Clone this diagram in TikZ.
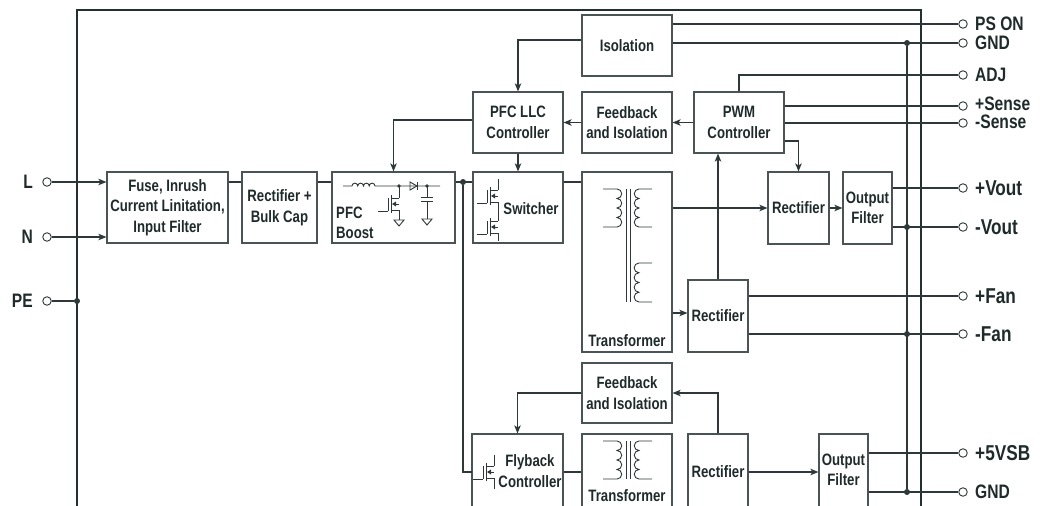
\documentclass[tikz,border=0pt]{standalone}
\usepackage{fontspec}
\setmainfont{Liberation Sans}[FakeStretch=0.8]
\usetikzlibrary{arrows.meta,calc}
\definecolor{txtc}{HTML}{1F2A2A}
\definecolor{wirec}{HTML}{2E3838}
\definecolor{boxc}{HTML}{4A5454}
\definecolor{framec}{HTML}{243030}
\newcommand\boxfont{\fontsize{16.5}{20.5}\selectfont\bfseries}
\newcommand\labfont{\fontsize{19.5}{20}\selectfont\bfseries}
\newcommand\biglab{\fontsize{21.5}{22}\selectfont\bfseries}
\newcommand\mosfet[2]{% channel x, centre y
  \draw[sym] (#1,#2-9) -- (#1,#2+9);
  \draw[sym] (#1-3,#2-6) -- (#1-3,#2+7);
  \draw[sym] (#1-13,#2+7) -- (#1-3,#2+7);
  \draw[sym] (#1,#2-6) -- (#1+8,#2-6);
  \draw[sym] (#1,#2+6) -- (#1+8,#2+6);
  \draw[sym] (#1+8,#2) -- (#1+4,#2);
  \fill[wirec] (#1+1,#2) -- (#1+5,#2-2.5) -- (#1+5,#2+2.5) -- cycle;
}
\newcommand\gnd[2]{\draw[sym] (#1-5,#2) -- (#1+5,#2) -- (#1,#2+6) -- cycle;}
\newcommand\coils[3]{% x of arc points, top y, radius ; bulge right
  \draw[sym] (#1-14,#2) -- (#1,#2)
    arc[start angle=90,end angle=-90,radius=#3pt]
    arc[start angle=90,end angle=-90,radius=#3pt]
    arc[start angle=90,end angle=-90,radius=#3pt]
    arc[start angle=90,end angle=-90,radius=#3pt] -- ++(-14,0);}
\newcommand\coill[3]{% bulge left
  \draw[sym] (#1+13,#2) -- (#1,#2)
    arc[start angle=90,end angle=270,radius=#3pt]
    arc[start angle=90,end angle=270,radius=#3pt]
    arc[start angle=90,end angle=270,radius=#3pt]
    arc[start angle=90,end angle=270,radius=#3pt] -- ++(13,0);}
\begin{document}
\begin{tikzpicture}[x=1pt,y=-1pt,
  box/.style={draw=boxc,line width=1.2pt,rectangle,inner sep=0pt,align=center,font=\boxfont,text=txtc},
  txt/.style={inner sep=0pt,align=center,font=\boxfont,text=txtc},
  wire/.style={draw=wirec,line width=1.2pt},
  sym/.style={draw=wirec,line width=0.9pt},
  arr/.style={wire,-{Stealth[length=8pt,width=6.5pt,inset=2pt]}},
  term/.style={circle,draw=wirec,fill=white,line width=0.9pt,minimum size=8.5pt,inner sep=0pt},
  dot/.style={circle,fill=wirec,minimum size=6pt,inner sep=0pt},
  lab/.style={anchor=west,inner sep=0pt,font=\labfont,text=txtc},
  blab/.style={anchor=west,inner sep=0pt,font=\biglab,text=txtc},
  frame/.style={draw=framec,line width=2.4pt}]
\useasboundingbox (0,0) rectangle (1042,506);
\clip (0,0) rectangle (1042,506);
% frame
\draw[frame] (77,530) -- (77,10) -- (921,10) -- (921,530);
% boxes
\node[box,minimum width=121,minimum height=71] (fuse) at (167.5,207.5) {Fuse, Inrush\\Current Linitation,\\Input Filter};
\node[box,minimum width=75,minimum height=71] (rect) at (279.5,207.5) {Rectifier +\\Bulk Cap};
\node[box,minimum width=123,minimum height=71] (pfc) at (393.5,207.5) {};
\node[txt,align=left,anchor=west] (pfct) at (336,223) {PFC\\Boost};
\node[box,minimum width=90,minimum height=71] (sw) at (518,207.5) {};
\node[txt] (swt) at (531,209) {Switcher};
\node[box,minimum width=90,minimum height=180] (tr) at (627,262) {};
\node[txt] (trt) at (627,341) {Transformer};
\node[box,minimum width=90,minimum height=61] (iso) at (627,45.5) {Isolation};
\node[box,minimum width=90,minimum height=61] (fb) at (627,122.5) {Feedback\\and Isolation};
\node[box,minimum width=90,minimum height=61] (llc) at (518,122.5) {PFC LLC\\Controller};
\node[box,minimum width=90,minimum height=61] (pwm) at (739,122.5) {PWM\\Controller};
\node[box,minimum width=61,minimum height=72] (rect1) at (798.5,208) {Rectifier};
\node[box,minimum width=49,minimum height=72] (of1) at (867.5,208) {Output\\Filter};
\node[box,minimum width=60,minimum height=72] (rect2) at (718,316) {Rectifier};
\node[box,minimum width=90,minimum height=60] (fb2) at (627,393) {Feedback\\and Isolation};
\node[box,minimum width=91,minimum height=106] (fly) at (517.5,487) {};
\node[txt] (flyt) at (530,471) {Flyback\\Controller};
\node[box,minimum width=90,minimum height=106] (tr3) at (627,487) {};
\node[txt] (tr3t) at (627,496) {Transformer};
\node[box,minimum width=60,minimum height=106] (rect3) at (718,487) {};
\node[txt] (rect3t) at (718,472) {Rectifier};
\node[box,minimum width=49,minimum height=106] (of2) at (843.5,487) {};
\node[txt] (of2t) at (843.5,470) {Output\\Filter};
% dots
\node[dot] (d1) at (463,182) {};
\node[dot] (dPE) at (77,301) {};
\node[dot] (dG1) at (907,43) {};
\node[dot] (dV) at (907,227) {};
\node[dot] (dF) at (907,334) {};
\node[dot] (dG2) at (907,492) {};
\coordinate (flyin) at (472,472);
% left terminals
\node[term] (tL) at (47,182) {};
\node[term] (tN) at (47,237) {};
\node[term] (tPE) at (47,301) {};
\node[lab,anchor=east] (lL) at (33,182) {L};
\node[lab,anchor=east] (lN) at (33,237) {N};
\node[lab,anchor=east] (lPE) at (33,301) {PE};
\draw[arr] (tL.east) -- (tL.east -| fuse.west);
\draw[arr] (tN.east) -- (tN.east -| fuse.west);
\draw[wire] (tPE.east) -- (dPE);
% main chain
\draw[wire] (fuse.east |- tL) -- (rect.west |- tL);
\draw[wire] (rect.east |- tL) -- (pfc.west |- tL);
\draw[wire] (pfc.east |- tL) -- (sw.west |- tL);
\draw[wire] (sw.east |- tL) -- (tr.west |- tL);
\draw[wire] (d1) |- (flyin);
% controllers
\draw[arr] (iso.west |- 0,40) -| (llc.north);
\draw[arr] (llc.west |- 0,120) -| (pfc.north);
\draw[arr] (llc.south) -- (sw.north);
\draw[arr] (fb.west) -- (llc.east);
\draw[arr] (pwm.west) -- (fb.east);
\draw[arr] (pwm.east |- 0,141) -| (rect1.north);
% right terminals
\node[term] (tPS) at (963,24) {};
\node[term] (tG1) at (963,43) {};
\node[term] (tADJ) at (963,75) {};
\node[term] (tSp) at (963,106) {};
\node[term] (tSm) at (963,123) {};
\node[term] (tVp) at (963,188) {};
\node[term] (tVm) at (963,227) {};
\node[term] (tFp) at (963,296) {};
\node[term] (tFm) at (963,334) {};
\node[term] (t5) at (963,453) {};
\node[term] (tG2) at (963,492) {};
\node[lab] (lPS) at (975,24) {PS ON};
\node[lab] (lG1) at (975,43) {GND};
\node[lab] (lADJ) at (975,75) {ADJ};
\node[lab] (lSp) at (975,104) {+Sense};
\node[lab] (lSm) at (975,122) {-Sense};
\node[blab] (lVp) at (975,188) {+Vout};
\node[blab] (lVm) at (975,227) {-Vout};
\node[blab] (lFp) at (975,296) {+Fan};
\node[blab] (lFm) at (975,334) {-Fan};
\node[blab] (l5) at (975,453) {+5VSB};
\node[lab] (lG2) at (975,492) {GND};
\draw[wire] (iso.east |- tPS) -- (tPS.west);
\draw[wire] (iso.east |- tG1) -- (tG1.west);
\draw[wire] (pwm.north) |- (tADJ.west);
\draw[wire] (pwm.east |- tSp) -- (tSp.west);
\draw[wire] (pwm.east |- tSm) -- (tSm.west);
\draw[arr] (tr.east |- 0,208) -- (rect1.west |- 0,208);
\draw[arr] (rect1.east |- 0,208) -- (of1.west |- 0,208);
\draw[wire] (of1.east |- tVp) -- (tVp.west);
\draw[wire] (of1.east |- tVm) -- (tVm.west);
\draw[arr] (tr.east |- 0,313) -- (rect2.west |- 0,313);
\draw[arr] (rect2.north) -- (rect2.north |- pwm.south);
\draw[wire] (rect2.east |- tFp) -- (tFp.west);
\draw[wire] (rect2.east |- tFm) -- (tFm.west);
\draw[arr] (rect3.north) |- (fb2.east);
\draw[arr] (fb2.west) -| (fly.north);
\draw[wire] (fly.east |- flyin) -- (tr3.west |- flyin);
\draw[arr] (rect3.east |- flyin) -- (of2.west |- flyin);
\draw[wire] (of2.east |- t5) -- (t5.west);
\draw[wire] (of2.east |- tG2) -- (tG2.west);
\draw[wire] (dG1) -- (dG2);
% transformer symbols
\coils{617}{189}{4.75}
\coill{639}{189}{4.75}
\coill{639}{263}{4.875}
\draw[sym] (626,189) -- (626,302) (630,189) -- (630,302);
\coils{617}{441}{4.75}
\coill{639}{441}{4.75}
\draw[sym] (626,441) -- (626,479) (630,441) -- (630,479);
% PFC boost symbol
\draw[sym] (343,186) -- (352,186)
  arc[start angle=180,end angle=0,radius=2.875pt]
  arc[start angle=180,end angle=0,radius=2.875pt]
  arc[start angle=180,end angle=0,radius=2.875pt]
  arc[start angle=180,end angle=0,radius=2.875pt] -- (440,186);
\draw[sym] (410,182) -- (417,186) -- (410,190) -- cycle;
\draw[sym] (417,182) -- (417,190);
\fill[wirec] (399,186) circle[radius=1.8pt] (427,186) circle[radius=1.8pt];
\draw[sym] (427,186) -- (427,197) (421,197) -- (433,197) (421,201) -- (433,201) (427,201) -- (427,219);
\gnd{427}{219}
\mosfet{391}{204}
\draw[sym] (399,186) -- (399,198) (399,210) -- (399,220);
\gnd{399}{220}
% switcher symbols
\mosfet{490}{196}
\draw[sym] (498,179) -- (498,190) (498,202) -- (498,221);
\mosfet{490}{227}
\draw[sym] (498,233) -- (498,241);
% flyback symbol
\mosfet{486}{472}
\draw[sym] (494,455) -- (494,466) (494,478) -- (494,489);
\end{tikzpicture}
\end{document}
